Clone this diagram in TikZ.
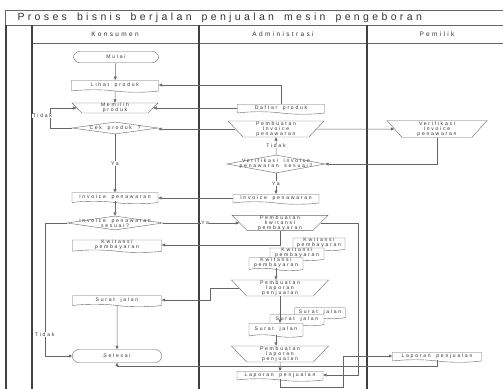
\documentclass[tikz,border=0pt]{standalone}
\usepackage{fontspec}
\setmainfont{Liberation Sans}
\newfontfamily\boxface[LetterSpace=34,WordSpace=1.8]{Liberation Sans}
\newfontfamily\titleface[LetterSpace=32,WordSpace=1.6]{Liberation Sans}
\newfontfamily\laneface[LetterSpace=36]{Liberation Sans}
\usetikzlibrary{arrows.meta,shapes.geometric,shapes.symbols}
\definecolor{linegray}{HTML}{666666}
\definecolor{lanegray}{HTML}{404040}
\definecolor{textgray}{HTML}{333333}
\tikzset{
	boxtext/.style={font=\boxface\fontsize{5.1}{5.2}\selectfont,text=textgray,align=center},
	term/.style={boxtext,draw=linegray,rounded corners=6pt,minimum width=86pt,minimum height=12pt,inner sep=0pt},
	docu/.style={boxtext,tape,tape bend top=none,tape bend bottom=out and in,tape bend height=2.5pt,draw=linegray,fill=white,minimum width=86pt,minimum height=11pt,inner sep=0pt},
	manop/.style={boxtext,trapezium,shape border rotate=180,trapezium stretches body,trapezium left angle=45,trapezium right angle=45,draw=linegray,minimum width=96pt,minimum height=16pt,inner sep=0pt},
	decide/.style={diamond,draw=linegray,minimum width=86pt,minimum height=12pt,inner sep=0pt},
	lbl/.style={boxtext,fill=white,inner sep=0.5pt},
	arr/.style={draw=linegray,line width=0.5pt,-{Triangle[length=3.5pt,width=3pt]}},
	lane/.style={draw=lanegray,line width=1.1pt},
	pool/.style={draw=linegray,line width=0.6pt}
}
\begin{document}
\begin{tikzpicture}[x=1pt,y=-1pt]
	\useasboundingbox (0,0) rectangle (503,388);
	\clip (0,0) rectangle (503,388);
	% pool and lanes
	\draw[pool] (510,10) -- (5,10) -- (5,25);
	\draw[pool] (5,25) -- (510,25);
	\draw[pool] (32,43) -- (510,43);
	\foreach \lx in {6,32,199,367}
		\draw[lane] (\lx,25) -- (\lx,400);
	\node[anchor=west,font=\titleface\fontsize{10.5}{12}\selectfont,text=textgray] (title) at (14,17.5) {Proses bisnis berjalan penjualan mesin pengeboran};
	\node[font=\laneface\fontsize{6.5}{8}\selectfont,text=textgray] (konsumen) at (115,34) {Konsumen};
	\node[font=\laneface\fontsize{6.5}{8}\selectfont,text=textgray] (admin) at (283,34) {Administrasi};
	\node[font=\laneface\fontsize{6.5}{8}\selectfont,text=textgray] (pemilik) at (437,34) {Pemilik};

	% Konsumen
	\node[term,minimum width=85pt,minimum height=11pt] (mulai) at (116,57) {Mulai};
	\node[docu,minimum width=87pt,minimum height=12pt] (lihat) at (115,85) {Lihat produk};
	\node[manop,minimum width=86pt,minimum height=10pt] (memilih) at (115,108) {Memilih\\produk};
	\node[decide,label={[boxtext]center:Cek produk ?}] (cek) at (115,128) {};
	\node[docu] (inv-k) at (115,197) {Invoice penawaran};
	\node[decide,minimum width=96pt,minimum height=14pt,label={[boxtext]center:Invoice penawaran\\sesuai?}] (sesuai) at (115,223) {};
	\node[docu,minimum width=89pt,minimum height=12pt] (kwi-k) at (117,245) {Kwitansi\\pembayaran};
	\node[docu,minimum width=89pt] (surat-k) at (117,300) {Surat jalan};
	\node[term,minimum width=89pt,minimum height=13pt] (selesai) at (117,356) {Selesai};

	% Administrasi
	\node[docu,minimum width=87pt,minimum height=10pt] (daftar) at (281,108) {Daftar produk};
	\node[manop] (pinv) at (276,129) {Pembuatan\\Invoice\\penawaran};
	\node[decide,minimum width=98pt,minimum height=18pt,label={[boxtext]center:Verifikasi invoice\\penawaran sesuai?}] (verif) at (276,164) {};
	\node[docu,minimum height=10pt] (inv-a) at (276,198) {Invoice penawaran};
	\node[manop,minimum height=15pt] (pkwi) at (280,223) {Pembuatan\\kwitansi\\pembayaran};
	\node[docu,minimum width=52pt,minimum height=11pt] (kwi-1) at (319,243) {Kwitansi\\pembayaran};
	\node[docu,minimum width=54pt,minimum height=11pt] (kwi-2) at (297,253) {Kwitansi\\pembayaran};
	\node[docu,minimum width=54pt,minimum height=13pt] (kwi-3) at (276,263) {Kwitansi\\pembayaran};
	\node[manop,minimum width=97pt] (plap1) at (280,288) {Pembuatan\\laporan\\penjualan};
	\node[docu,minimum width=51pt] (sj-1) at (320,312) {Surat jalan};
	\node[docu,minimum width=54pt] (sj-2) at (297,319) {Surat jalan};
	\node[docu,minimum width=54pt,minimum height=14pt] (sj-3) at (276,329) {Surat jalan};
	\node[manop,minimum width=97pt] (plap2) at (280,354) {Pembuatan\\laporan\\penjualan};
	\node[docu,minimum height=10pt] (lap-a) at (280,375) {Laporan penjualan};

	% Pemilik
	\node[manop,minimum width=100pt,minimum height=17pt] (verp) at (437,129) {Verifikasi\\Invoice\\penawaran};
	\node[docu,minimum width=89pt,minimum height=10pt] (lap-p) at (437,356) {Laporan penjualan};

	\coordinate (bendL) at (210,0);
	\coordinate (bendR) at (358,0);
	\coordinate (lowline) at (0,366);
	\coordinate (bendM) at (343,387);

	\draw[arr] (mulai) -- (lihat);
	\draw[arr] (lihat) -- (memilih);
	\draw[arr] (daftar.north) |- (lihat.east);
	\draw[arr] (daftar.west) -- (daftar.west -| memilih.east);
	\draw[arr] (cek.west) -- ++(-22,0) |- node[lbl,pos=0.3,left=-3pt] {Tidak} (memilih.west);
	\draw[arr] (pinv.west) -- (pinv.west -| cek.east);
	\draw[arr] (pinv.east) -- (verp.west);
	\draw[arr] (verp.south) |- (verif.east);
	\draw[arr] (verif.north) -- node[lbl] {Tidak} (pinv.south);
	\draw[arr] (verif.south) -- node[lbl] {Ya} (inv-a.north);
	\draw[arr] (inv-a.west) -- (inv-a.west -| inv-k.east);
	\draw[arr] (cek.south) -- node[lbl] {Ya} (inv-k.north);
	\draw[arr] (inv-k.south) -- (sesuai.north);
	\draw[arr] (sesuai.east) -- node[lbl,pos=0.55] {Ya} (sesuai.east -| pkwi.west);
	\draw[arr] (sesuai.west) -- ++(-22,0) |- node[lbl,pos=0.42] {Tidak} (selesai.west);
	\draw[arr] (pkwi.south) |- (kwi-k.east);
	\draw[arr] (pkwi.east) -- (pkwi.east -| bendR) -- (bendR |- lap-a.east) -- (lap-a.east);
	\draw[arr] (kwi-3.south) -- (kwi-3.south |- plap1.north);
	\draw[arr] (plap1.west) -- (plap1.west -| bendL) |- (surat-k.east);
	\draw[arr] (plap1.south) -- (plap1.south |- sj-3.north);
	\draw[arr] (sj-3.south) -- (sj-3.south |- plap2.north);
	\draw[arr] (plap2.south) -- (lap-a.north);
	\draw[arr] (lap-p.south) -- (lap-p.south |- lowline) -| (selesai.south);
	\draw[arr] (lap-a.south) |- (bendM) |- (lap-p.west);
	\draw[arr] (surat-k) -- (selesai);
\end{tikzpicture}
\end{document}
